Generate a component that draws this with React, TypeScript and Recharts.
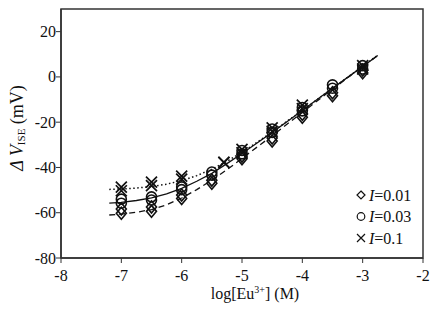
import React from "react";
import { ComposedChart, Line, Scatter, XAxis, YAxis, ReferenceArea } from "recharts";

// log[Eu3+] values for the I=0.01 and I=0.03 runs
const logEu = [-7, -6.5, -6, -5.5, -5, -4.5, -4, -3.5, -3];
// I=0.1 run was sampled at slightly different points
const logEu01 = [-7, -6.5, -6, -5.3, -5, -4.5, -4, -3];

// two replicate runs per ionic strength (mV)
const dV001a = [-58.4, -57.5, -52.2, -45.6, -35.0, -27.0, -16.5, -7.0, 3.0];
const dV001b = [-60.2, -59.4, -53.7, -47.0, -36.2, -28.3, -17.8, -8.3, 1.8];
const dV003a = [-54.0, -53.0, -48.6, -42.0, -32.5, -23.0, -13.5, -3.5, 5.0];
const dV003b = [-55.8, -54.4, -49.8, -43.4, -34.0, -24.5, -15.0, -5.0, 3.5];
const dV01a = [-48.7, -46.5, -43.8, -37.8, -32.0, -22.5, -12.5, 5.0];
const dV01b = [-50.3, -48.0, -45.2, -37.8, -33.5, -24.0, -14.0, 3.5];

// fitted response curves
const fitLog = [-7.2, -7, -6.75, -6.5, -6.25, -6, -5.75, -5.5, -5.25, -5, -4.75, -4.5, -4.25, -4, -3.75, -3.5, -3.25, -3, -2.75];
const fit001 = [-61, -60.6, -59.8, -58.6, -56.5, -53.5, -49.8, -45.6, -41, -36, -31, -26, -20.8, -15.7, -10.5, -5.4, -0.4, 4.6, 9.5];
const fit003 = [-55.8, -55.4, -54.6, -53.4, -51.7, -49.2, -46.1, -42.6, -38.3, -33.8, -29.2, -24.5, -19.7, -14.8, -9.9, -5.0, -0.2, 4.6, 9.5];
const fit01 = [-49.7, -49.5, -49.1, -48.4, -47.4, -45.8, -43.6, -40.8, -37.3, -33.3, -28.9, -24.3, -19.5, -14.8, -9.9, -5.0, -0.2, 4.7, 9.6];

const xTicks = [-8, -7, -6, -5, -4, -3, -2];
const yTicks = [-80, -60, -40, -20, 0, 20];
const legendLabels = ["0.01", "0.03", "0.1"];

const toPts = (xs: number[], ys: number[]) => xs.map((x, i) => ({ x, v: ys[i] }));

const FONT = "Liberation Serif";
const INK = "#111";

const DiamondShape = (props: any) => {
  const { cx, cy } = props;
  return (
    <path
      d={`M${cx},${cy - 6} L${cx + 5},${cy} L${cx},${cy + 6} L${cx - 5},${cy} Z`}
      fill="none"
      stroke={INK}
      strokeWidth={1.6}
    />
  );
};

const CircleShape = (props: any) => {
  const { cx, cy } = props;
  return <circle cx={cx} cy={cy} r={5} fill="none" stroke={INK} strokeWidth={1.6} />;
};

const CrossShape = (props: any) => {
  const { cx, cy } = props;
  const d = 5.5;
  return (
    <path
      d={`M${cx - d},${cy - d} L${cx + d},${cy + d} M${cx - d},${cy + d} L${cx + d},${cy - d}`}
      stroke={INK}
      strokeWidth={1.7}
    />
  );
};

const XTick = (props: any) => {
  const { x, y, payload } = props;
  return (
    <text x={x} y={y + 16} textAnchor="middle" fontFamily={FONT} fontSize={16} fill={INK}>
      {payload.value}
    </text>
  );
};

const YTick = (props: any) => {
  const { x, y, payload } = props;
  return (
    <text x={x + 2} y={y + 5.5} textAnchor="end" fontFamily={FONT} fontSize={16} fill={INK}>
      {payload.value}
    </text>
  );
};

// legend box in the lower right corner of the plot
const LegendBox = () => (
  <svg width={80} height={70} style={{ position: "absolute", left: 353, top: 185 }}>
    {legendLabels.map((label, i) => {
      const cy = 10 + i * 21.5;
      const cx = 8;
      let marker;
      if (i === 0) {
        marker = <path d={`M${cx},${cy - 4} L${cx + 4},${cy} L${cx},${cy + 4} L${cx - 4},${cy} Z`} fill="none" stroke={INK} strokeWidth={1.2} />;
      } else if (i === 1) {
        marker = <circle cx={cx} cy={cy} r={3.8} fill="none" stroke={INK} strokeWidth={1.2} />;
      } else {
        marker = <path d={`M${cx - 4},${cy - 4} L${cx + 4},${cy + 4} M${cx - 4},${cy + 4} L${cx + 4},${cy - 4}`} stroke={INK} strokeWidth={1.2} />;
      }
      return (
        <g key={label}>
          {marker}
          <text x={16} y={cy + 5.5} fontFamily={FONT} fontSize={16} fill={INK}>
            <tspan fontStyle="italic">I</tspan>={label}
          </text>
        </g>
      );
    })}
  </svg>
);

const YLabel = () => (
  <text
    x={17}
    y={128}
    transform="rotate(-90 17 128)"
    textAnchor="middle"
    dominantBaseline="central"
    fontFamily={FONT}
    fontSize={18}
    fill={INK}
  >
    <tspan fontStyle="italic">Δ V</tspan>
    <tspan fontSize={11} dy={4}>ISE</tspan>
    <tspan dy={-4}> (mV)</tspan>
  </text>
);

const XLabel = () => (
  <text x={255} y={299} textAnchor="middle" fontFamily={FONT} fontSize={16} fill={INK}>
    log[Eu
    <tspan fontSize={10} dy={-6}>3+</tspan>
    <tspan dy={6}>] (M)</tspan>
  </text>
);

export default function App() {
  return (
    <div style={{ position: "absolute", left: 0, top: 0, width: 432, height: 312, background: "#fff" }}>
      <ComposedChart width={432} height={312} margin={{ top: 9, right: 9, bottom: 0, left: 0 }}>
        <XAxis
          type="number"
          dataKey="x"
          domain={[-8, -2]}
          ticks={xTicks}
          allowDataOverflow
          height={54}
          tickSize={5}
          tickMargin={2}
          tick={<XTick />}
          axisLine={{ stroke: "#333", strokeWidth: 1.5 }}
          tickLine={{ stroke: "#333" }}
          label={<XLabel />}
        />
        <YAxis
          type="number"
          dataKey="v"
          domain={[-80, 30]}
          ticks={yTicks}
          allowDataOverflow
          width={61}
          tickSize={5}
          tickMargin={2}
          tick={<YTick />}
          axisLine={{ stroke: "#333", strokeWidth: 1.5 }}
          tickLine={{ stroke: "#333" }}
          label={<YLabel />}
        />
        <ReferenceArea x1={-8} x2={-2} y1={-80} y2={30} fill="none" stroke="#333" strokeWidth={1.5} />
        <Line data={toPts(fitLog, fit01)} dataKey="v" stroke={INK} strokeWidth={1.5} strokeDasharray="1.5 2.5" dot={false} isAnimationActive={false} />
        <Line data={toPts(fitLog, fit003)} dataKey="v" stroke={INK} strokeWidth={1.3} dot={false} isAnimationActive={false} />
        <Line data={toPts(fitLog, fit001)} dataKey="v" stroke={INK} strokeWidth={1.3} strokeDasharray="6 4" dot={false} isAnimationActive={false} />
        <Scatter data={[...toPts(logEu, dV001a), ...toPts(logEu, dV001b)]} dataKey="v" shape={<DiamondShape />} isAnimationActive={false} />
        <Scatter data={[...toPts(logEu, dV003a), ...toPts(logEu, dV003b)]} dataKey="v" shape={<CircleShape />} isAnimationActive={false} />
        <Scatter data={[...toPts(logEu01, dV01a), ...toPts(logEu01, dV01b)]} dataKey="v" shape={<CrossShape />} isAnimationActive={false} />
      </ComposedChart>
      <LegendBox />
    </div>
  );
}
